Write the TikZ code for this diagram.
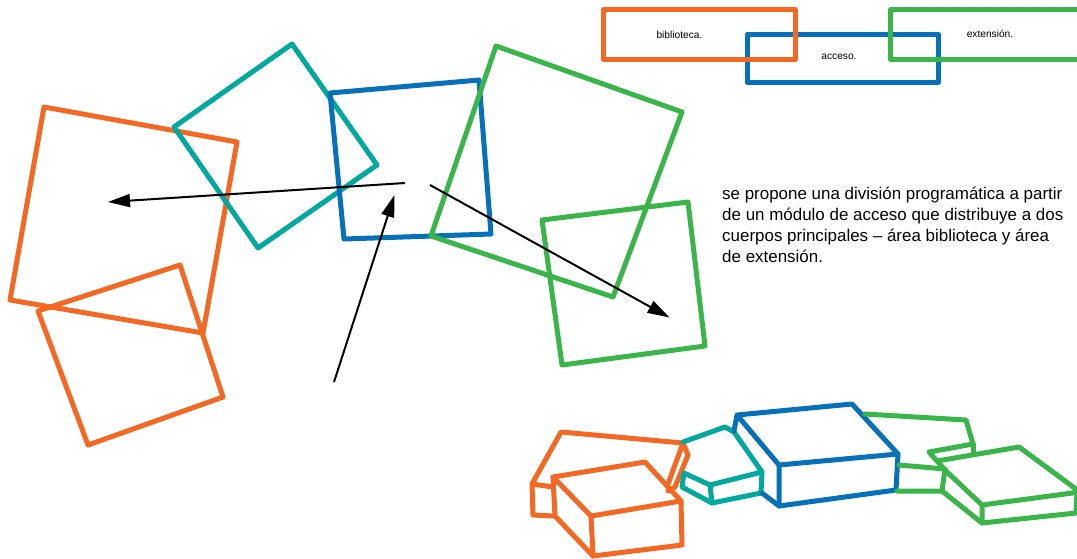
\documentclass[tikz,border=0pt]{standalone}
\usepackage{fontspec}
\setmainfont{Liberation Sans}
\usetikzlibrary{arrows.meta,positioning}
\definecolor{naranja}{RGB}{244,104,36}
\definecolor{azul}{RGB}{6,112,184}
\definecolor{verde}{RGB}{57,181,74}
\definecolor{turquesa}{RGB}{0,169,157}
\begin{document}
\begin{tikzpicture}[x=1pt,y=-1pt,
  plano/.style={line width=5pt,line join=round,line cap=round},
  bloque/.style={line width=5pt,line join=round,line cap=round},
  flecha/.style={line width=2pt,-{Triangle[length=22pt,width=13pt]}},
  etiqueta/.style={font=\fontsize{10.2}{12}\selectfont,inner sep=0pt},
  texto/.style={font=\fontsize{16.95}{21.1}\selectfont,align=left,anchor=north west,inner sep=0pt}]
 \useasboundingbox (0,0) rectangle (1077,558);
 %PLANTA
 \draw[plano,naranja] (44,107) -- (237,142) -- (203,333) -- (10,300) -- cycle;
 \draw[plano,naranja] (38,311) -- (180,265) -- (223,397) -- (88,445) -- cycle;
 \draw[plano,turquesa] (292,44) -- (377,165) -- (258,248) -- (174,127) -- cycle;
 \draw[plano,azul] (330,93) -- (479,80) -- (491,234) -- (344,239) -- cycle;
 \draw[plano,verde] (496,46) -- (682,112) -- (613,297) -- (431,236) -- cycle;
 \draw[plano,verde] (542,220) -- (688,202) -- (705,346) -- (562,365) -- cycle;
 %FLECHAS
 \coordinate (accesoA) at (405,183);
 \coordinate (bibliotecaA) at (108,202);
 \coordinate (entrada) at (334,382);
 \coordinate (accesoB) at (394.5,195);
 \coordinate (accesoC) at (430,185);
 \coordinate (extensionA) at (669.5,317.5);
 \draw[flecha] (accesoA) -- (bibliotecaA);
 \draw[flecha] (entrada) -- (accesoB);
 \draw[flecha] (accesoC) -- (extensionA);
 %ESQUEMA
 \draw[plano,azul] (747,34.5) rectangle (938.5,82);
 \draw[plano,naranja] (603.5,9.5) rectangle (795,59.5);
 \draw[plano,verde] (1090,9.5) -- (890.5,9.5) -- (890.5,59.5) -- (1090,59.5);
 \node[etiqueta] (biblioteca) at (679.5,35) {biblioteca.};
 \node[etiqueta] (acceso) at (839,57) {acceso.};
 \node[etiqueta] (extension) at (990,34) {extensión.};
 %TEXTO
 \node[texto] (propuesta) at (722,187) {se propone una división programática a partir\\de un módulo de acceso que distribuye a dos\\cuerpos principales – área biblioteca y área\\de extensión.};
 %VOLUMEN BIBLIOTECA
 \draw[bloque,naranja] (553,487) -- (532,484) -- (561,432) -- (683,443) -- (688,455) -- (675,487) -- (668,491);
 \draw[bloque,naranja] (683,443) -- (668,484);
 \draw[bloque,naranja] (532,484) -- (533,515) -- (553,516);
 \draw[bloque,naranja] (553,477) -- (645,462) -- (681,501) -- (591,516) -- cycle;
 \draw[bloque,naranja] (591,516) -- (593,556) -- (682,545) -- (681,501);
 \draw[bloque,naranja] (553,477) -- (555,516) -- (593,556);
 %VOLUMEN ACCESO
 \draw[bloque,turquesa] (683,442) -- (725,427) -- (734,432) -- (762,472) -- (710,485) -- (684,473) -- (682,487) -- (712,503) -- (761,493) -- (762,472);
 \draw[bloque,turquesa] (710,485) -- (712,503);
 \draw[bloque,azul] (734,431) -- (737,415) -- (852,404) -- (898,454) -- (779,465) -- (737,415);
 \draw[bloque,azul] (779,465) -- (779,506) -- (896,490) -- (898,454);
 \draw[bloque,azul] (762,493) -- (779,506);
 %VOLUMEN EXTENSION
 \draw[bloque,verde] (865,414) -- (966,420) -- (973,444) -- (929,452) -- (945,470);
 \draw[bloque,verde] (973,444) -- (973,454);
 \draw[bloque,verde] (899,465) -- (945,469) -- (942,491) -- (897,491);
 \draw[bloque,verde] (937,461) -- (1019,447) -- (1080,492) -- (982,505) -- (945,470);
 \draw[bloque,verde] (982,505) -- (982,523) -- (942,491);
 \draw[bloque,verde] (982,523) -- (1076,513) -- (1077,492);
\end{tikzpicture}
\end{document}
